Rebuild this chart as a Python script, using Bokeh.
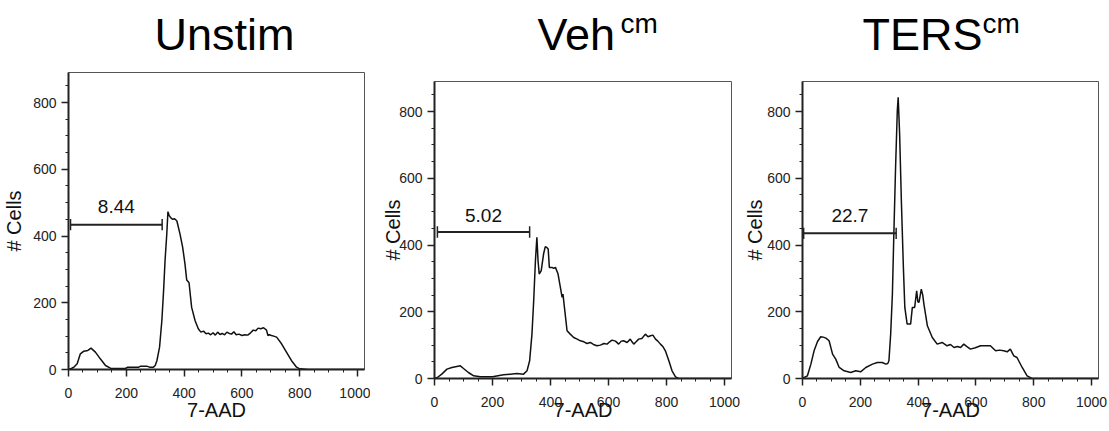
from bokeh.plotting import figure
from bokeh.models import Range1d, Label, FixedTicker
from bokeh.core.properties import value
from bokeh.embed import file_html
from bokeh.resources import INLINE

# ---------------- data ----------------
titles = ["Unstim", "Veh", "TERS"]
superscripts = ["", "cm", "cm"]
gate_labels = ["8.44", "5.02", "22.7"]
gate_start = [7, 10, 4]
gate_end = [324, 328, 324]
gate_level = [434, 439, 435]

x_ticks = [0, 200, 400, 600, 800, 1000]
y_ticks = [0, 200, 400, 600, 800]

unstim_x = [0, 10, 20, 30, 41, 53, 67, 78, 93, 110, 128, 145, 170, 197, 205, 243, 250, 271, 280, 294,
            300, 306, 315, 323, 329, 334, 340, 344, 348, 352, 357, 361, 366, 369, 375, 386, 395, 403,
            409, 417, 426, 438, 449, 458, 467, 476, 484, 492, 500, 508, 516, 524, 532, 540, 548, 556,
            564, 572, 580, 590, 600, 610, 620, 630, 639, 648, 656, 665, 675, 685, 690, 695, 702, 710,
            720, 737, 754, 771, 789, 800, 830, 1024]
unstim_y = [0, 3, 8, 17, 47, 55, 57, 64, 52, 32, 12, 4, 3, 3, 7, 7, 10, 10, 7, 7,
            12, 27, 67, 147, 237, 326, 406, 473, 462, 457, 452, 450, 452, 450, 445, 405, 366, 316,
            268, 260, 186, 146, 122, 112, 115, 107, 109, 104, 110, 103, 112, 105, 108, 104, 112, 108,
            106, 113, 104, 106, 102, 104, 103, 110, 118, 116, 124, 122, 125, 118, 102, 104, 102, 100,
            97, 77, 52, 27, 7, 2, 0, 0]

veh_x = [0, 10, 25, 43, 60, 77, 89, 100, 117, 135, 158, 200, 238, 261, 284, 307, 319, 328, 336, 342,
         348, 353, 357, 361, 368, 376, 382, 388, 392, 396, 405, 411, 417, 426, 434, 440, 443, 448,
         457, 468, 480, 492, 503, 515, 526, 537, 548, 560, 572, 584, 595, 604, 612, 624, 635, 644,
         652, 664, 675, 681, 687, 695, 704, 715, 727, 736, 745, 753, 762, 770, 779, 788, 796, 808,
         819, 831, 842, 1024]
veh_y = [0, 3, 13, 28, 33, 36, 38, 30, 18, 8, 5, 5, 11, 13, 15, 13, 23, 53, 133, 233,
         353, 423, 353, 313, 323, 373, 395, 392, 388, 333, 333, 330, 333, 313, 273, 243, 253, 213,
         143, 133, 123, 118, 113, 110, 105, 108, 102, 98, 100, 105, 103, 110, 115, 112, 103, 112,
         113, 108, 118, 110, 103, 110, 118, 120, 133, 125, 128, 130, 118, 112, 103, 95, 83, 53,
         23, 5, 0, 0]

ters_x = [0, 6, 17, 29, 40, 52, 63, 72, 81, 92, 104, 115, 127, 144, 167, 184, 201, 219, 242, 259,
          276, 288, 295, 299, 305, 311, 316, 322, 328, 331, 336, 342, 349, 354, 362, 374, 380, 388,
          395, 399, 403, 411, 416, 420, 432, 449, 466, 483, 500, 512, 524, 536, 547, 558, 570, 581,
          598, 616, 633, 650, 668, 682, 696, 708, 719, 731, 742, 760, 777, 794, 1024]
ters_y = [0, 3, 8, 43, 83, 111, 125, 124, 121, 113, 73, 58, 33, 23, 18, 23, 20, 33, 43, 48,
          48, 43, 45, 53, 133, 253, 433, 633, 803, 843, 733, 533, 333, 213, 163, 163, 213, 213,
          263, 230, 228, 268, 250, 223, 158, 123, 103, 108, 98, 102, 93, 96, 93, 103, 95, 88,
          92, 98, 98, 98, 83, 85, 83, 80, 88, 68, 63, 33, 8, 0, 0]

series_x = [unstim_x, veh_x, ters_x]
series_y = [unstim_y, veh_y, ters_y]

# ---------------- layout / style ----------------
FONT = "Liberation Sans"
TITLE_H = 66
panel_w = [370, 370, 369]
borders = [  # left, right, top, bottom
    (68, 6, 72 - TITLE_H, 62),
    (64, 9, 81 - TITLE_H, 53),
    (62, 11, 81 - TITLE_H, 53),
]
xlab_standoff = [-2, -11, -11]
ylab_standoff = [5, -8, -2]
num_y = [488, 487, 487]

# title strip (pixel-like coordinates, y measured upward from strip bottom)
tfig = figure(width=1109, height=TITLE_H, output_backend="svg", toolbar_location=None,
              x_range=Range1d(0, 1109), y_range=Range1d(0, TITLE_H),
              x_axis_type=None, y_axis_type=None, min_border=0)
tfig.grid.visible = False
tfig.outline_line_color = None
tfig.text(x=[154, 537, 862], y=[32, 32, 32], text=titles, text_font=value(FONT),
          text_font_size="45px", text_baseline="alphabetic", text_align="left", text_color="#000000")
tfig.text(x=[620, 982], y=[43, 43], text=[s for s in superscripts if s], text_font=value(FONT),
          text_font_size="28px", text_baseline="alphabetic", text_align="left", text_color="#000000")

figs = []
for i in range(3):
    bl, br, bt, bb = borders[i]
    p = figure(width=panel_w[i], height=431 - TITLE_H, output_backend="svg", toolbar_location=None,
               x_range=Range1d(0, 1024), y_range=Range1d(0, 890),
               min_border_left=bl, min_border_right=br, min_border_top=bt, min_border_bottom=bb)
    p.grid.visible = False
    p.outline_line_color = "#555555"
    p.outline_line_width = 1
    p.background_fill_color = "white"
    p.border_fill_color = "white"

    p.line(series_x[i], series_y[i], line_color="#111111", line_width=1.5)

    # gate
    g0, g1, gy = gate_start[i], gate_end[i], gate_level[i]
    p.segment(x0=[g0], y0=[gy], x1=[g1], y1=[gy], line_color="#222222", line_width=2)
    p.segment(x0=[g0, g1], y0=[gy - 17, gy - 17], x1=[g0, g1], y1=[gy + 17, gy + 17],
              line_color="#222222", line_width=1.5)
    p.add_layout(Label(x=(g0 + g1) / 2, y=num_y[i], text=gate_labels[i], text_align="center",
                       text_baseline="alphabetic", text_font=FONT, text_font_size="19px",
                       text_color="#111111"))

    for ax in (p.xaxis[0], p.yaxis[0]):
        ax.axis_line_width = 2
        ax.axis_line_color = "#222222"
        ax.major_tick_line_color = "#222222"
        ax.major_tick_line_width = 1.5
        ax.minor_tick_line_color = "#222222"
        ax.minor_tick_line_width = 1
        ax.major_tick_in = 0
        ax.major_tick_out = 7
        ax.minor_tick_in = 0
        ax.minor_tick_out = 3
        ax.major_label_text_font = FONT
        ax.major_label_text_font_size = "14px"
        ax.major_label_text_color = "#222222"
        ax.axis_label_text_font = FONT
        ax.axis_label_text_font_size = "20px"
        ax.axis_label_text_font_style = "normal"
        ax.axis_label_text_color = "#111111"

    p.xaxis.ticker = FixedTicker(ticks=x_ticks, minor_ticks=list(range(0, 1001, 50)))
    p.yaxis.ticker = FixedTicker(ticks=y_ticks, minor_ticks=list(range(0, 851, 50)))
    p.xaxis.axis_label = "7-AAD"
    p.yaxis.axis_label = "# Cells"
    p.xaxis.major_label_standoff = 11
    p.yaxis.major_label_standoff = 5
    p.xaxis.axis_label_standoff = xlab_standoff[i]
    p.yaxis.axis_label_standoff = ylab_standoff[i]
    figs.append(p)

# independent roots laid out side by side (avoids frame alignment between panels)
TEMPLATE = """
{% block postamble %}
<style>
  body { display: flex !important; flex-wrap: wrap; align-items: flex-start;
         align-content: flex-start; width: 1109px; margin: 0; }
</style>
{% endblock %}
"""
html = file_html([tfig] + figs, INLINE, template=TEMPLATE)
open("out.html", "w").write(html)
